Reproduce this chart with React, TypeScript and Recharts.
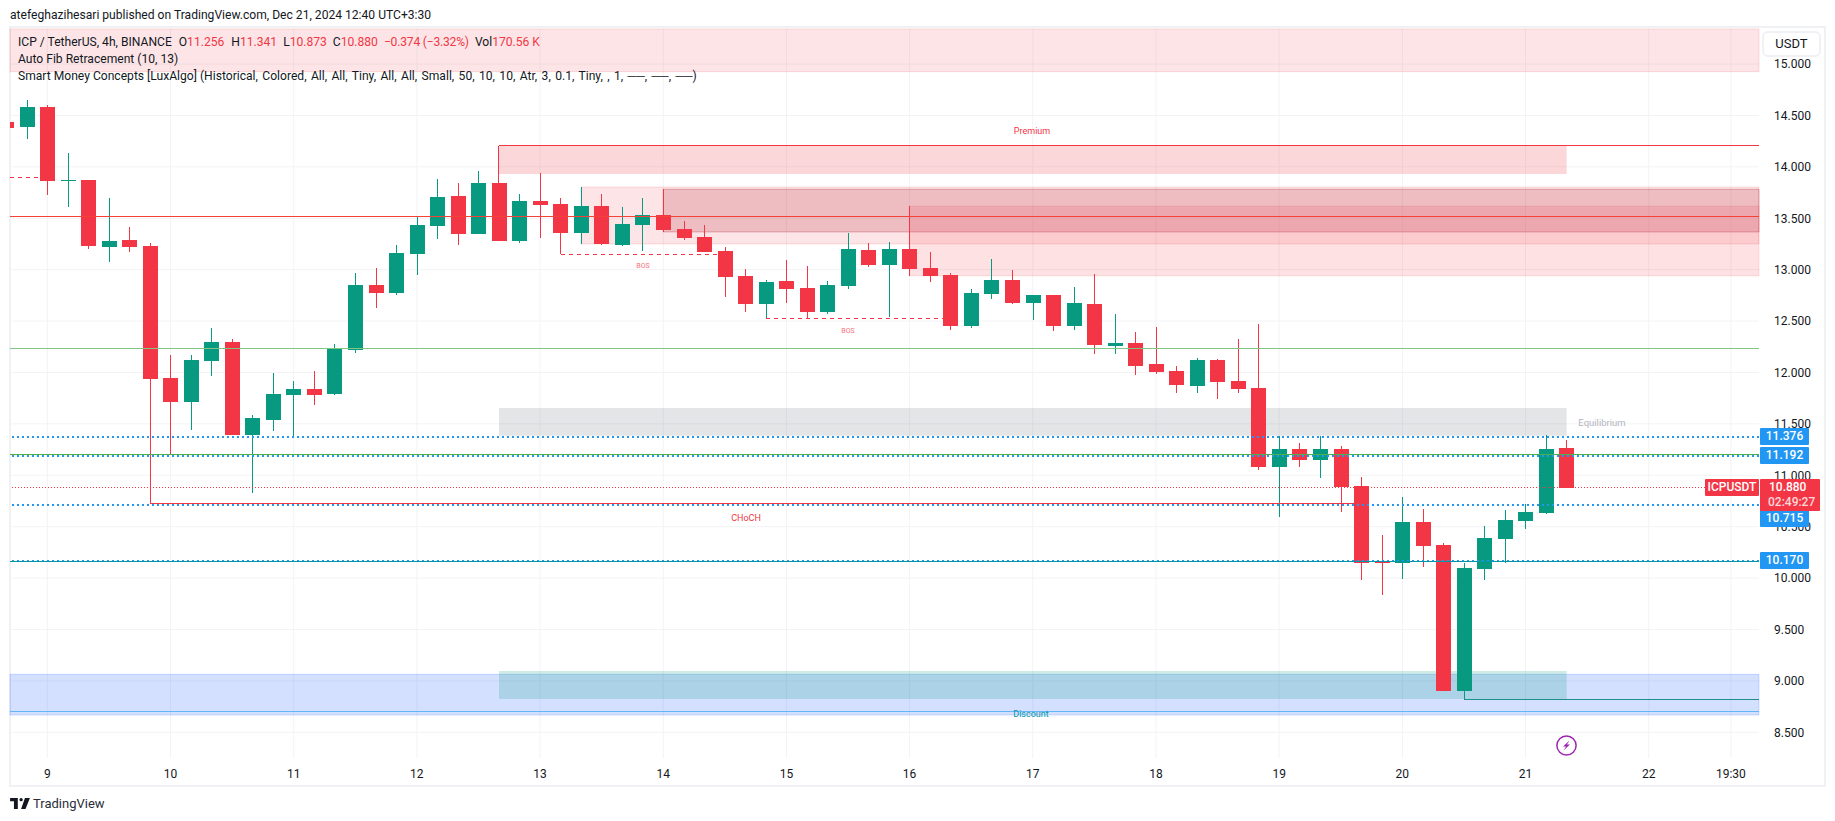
// ICP/USDT 4h candles with Smart Money Concepts zones, TradingView look.
import React from "react";
import { Bar, CartesianGrid, ComposedChart, ReferenceArea, ReferenceLine, XAxis, YAxis } from "recharts";

const RED = "#F23645";
const GREEN = "#089981";
const BLUE = "#2196F3";
const FONT = "Roboto, sans-serif";

// bar index: 0 is the "9" tick, six 4h bars per day
const firstBar = -2;
const opens = [
  14.437, 14.391, 14.583, 13.863, 13.872, 13.221, 13.289, 13.23, 11.946, 11.713,
  12.112, 12.296, 11.392, 11.538, 11.781, 11.839, 11.791, 12.219, 12.851, 12.773,
  13.153, 13.425, 13.717, 13.347, 13.843, 13.279, 13.668, 13.639, 13.357, 13.62,
  13.24, 13.435, 13.532, 13.396, 13.318, 13.182, 12.939, 12.666, 12.89, 12.822,
  12.588, 12.841, 13.191, 13.046, 13.201, 13.016, 12.948, 12.452, 12.763, 12.9,
  12.676, 12.754, 12.452, 12.666, 12.258, 12.287, 12.082, 12.014, 11.868, 12.121,
  11.917, 11.849, 11.081, 11.256, 11.149, 11.256, 10.896, 10.156, 10.146, 10.545,
  10.322, 8.901, 10.088, 10.38, 10.555, 10.633, 11.265,
];
const highs = [
  14.437, 14.651, 14.599, 14.135, 13.872, 13.697, 13.415, 13.26, 12.17, 12.17,
  12.433, 12.326, 11.586, 11.995, 11.917, 12.014, 12.277, 12.968, 13.016, 13.24,
  13.512, 13.882, 13.843, 13.96, 13.843, 13.736, 13.941, 13.697, 13.804, 13.736,
  13.61, 13.697, 13.785, 13.474, 13.435, 13.221, 13.007, 12.9, 13.094, 13.036,
  12.89, 13.357, 13.26, 13.269, 13.62, 13.172, 12.968, 12.812, 13.104, 12.997,
  12.754, 12.754, 12.832, 12.958, 12.569, 12.394, 12.442, 12.063, 12.141, 12.131,
  12.326, 12.472, 11.382, 11.314, 11.382, 11.285, 10.983, 10.419, 10.789, 10.672,
  10.341, 10.146, 10.506, 10.662, 10.721, 11.392, 11.343,
];
const lows = [
  14.378, 14.274, 13.727, 13.61, 13.201, 13.075, 13.172, 10.727, 11.207, 11.44,
  11.966, 11.392, 10.827, 11.431, 11.362, 11.684, 11.781, 12.19, 12.627, 12.754,
  12.948, 13.298, 13.24, 13.347, 13.279, 13.26, 13.308, 13.153, 13.25, 13.24,
  13.23, 13.182, 13.367, 13.289, 13.172, 12.734, 12.588, 12.53, 12.676, 12.53,
  12.569, 12.812, 13.026, 12.54, 12.939, 12.88, 12.413, 12.433, 12.715, 12.666,
  12.511, 12.403, 12.413, 12.18, 12.18, 11.975, 11.985, 11.8, 11.8, 11.742,
  11.8, 11.051, 10.594, 11.081, 10.973, 10.643, 9.981, 9.835, 9.991, 10.108,
  8.901, 8.823, 9.981, 10.146, 10.477, 10.623, 10.876,
];
const closes = [
  14.378, 14.583, 13.866, 13.872, 13.23, 13.279, 13.221, 11.937, 11.713, 12.121,
  12.296, 11.392, 11.557, 11.791, 11.839, 11.781, 12.228, 12.851, 12.773, 13.162,
  13.435, 13.707, 13.347, 13.843, 13.279, 13.668, 13.629, 13.357, 13.62, 13.25,
  13.444, 13.532, 13.386, 13.308, 13.172, 12.929, 12.666, 12.88, 12.812, 12.588,
  12.851, 13.201, 13.046, 13.201, 13.007, 12.939, 12.452, 12.773, 12.9, 12.676,
  12.754, 12.452, 12.676, 12.267, 12.287, 12.063, 12.005, 11.878, 12.121, 11.907,
  11.839, 11.081, 11.256, 11.149, 11.256, 10.886, 10.146, 10.146, 10.545, 10.312,
  8.901, 10.098, 10.39, 10.565, 10.643, 11.256, 10.88,
];

const priceTicks = [8.5, 9, 9.5, 10, 10.5, 11, 11.5, 12, 12.5, 13, 13.5, 14, 14.5, 15];
const timeTicks = [0, 6, 12, 18, 24, 30, 36, 42, 48, 54, 60, 66, 72, 78, 82];
const timeLabels = ["9", "10", "11", "12", "13", "14", "15", "16", "17", "18", "19", "20", "21", "22", "19:30"];

const priceMin = 8.25;
const priceMax = 15.341;
const barMin = -1.817;
const barMax = 83.37;

const rows = closes.map((c, i) => ({
  bar: firstBar + i,
  o: opens[i],
  h: highs[i],
  l: lows[i],
  c,
  range: [lows[i], highs[i]],
}));

function Candle(props: any) {
  const { x, y, width, height, payload } = props;
  const { o, h, l, c } = payload;
  const k = h > l ? height / (h - l) : 0;
  const color = c >= o ? GREEN : RED;
  const mid = x + width / 2;
  const bodyTop = y + (h - Math.max(o, c)) * k;
  const bodyH = Math.max(1, Math.abs(o - c) * k);
  return (
    <g shapeRendering="crispEdges">
      <rect x={Math.floor(mid)} y={y} width={1} height={height} fill={color} />
      <rect x={Math.round(mid - 7.5)} y={bodyTop} width={15} height={bodyH} fill={color} />
    </g>
  );
}

function Txt({ x, y, size = 12.1, color = "#131722", anchor = "left", children }: any) {
  const tr = anchor === "center" ? "translate(-50%,-50%)" : "translateY(-50%)";
  return (
    <div style={{ position: "absolute", left: x, top: y, transform: tr, fontSize: size, color, fontFamily: FONT, whiteSpace: "nowrap", lineHeight: 1 }}>
      {children}
    </div>
  );
}

function PriceTag({ top, height = 17, text }: any) {
  return (
    <div style={{ position: "absolute", left: 1760, top, width: 49, height, background: BLUE, color: "#fff", borderRadius: 1, fontFamily: FONT, fontSize: 12, fontWeight: 500, lineHeight: height + "px", textAlign: "center" }}>
      {text}
    </div>
  );
}

export default function App() {
  return (
    <div style={{ position: "fixed", left: 0, top: 0, width: 1835, height: 821, background: "#fff", overflow: "hidden" }}>
      <div style={{ position: "absolute", left: 9, top: 26, width: 1813, height: 757, border: "2px solid #F0F1F5" }} />
      <Txt x={10} y={15}>atefeghazihesari published on TradingView.com, Dec 21, 2024 12:40 UTC+3:30</Txt>

      <div style={{ position: "absolute", left: 0, top: 0 }}>
        <ComposedChart width={1835} height={821} data={rows} margin={{ top: 29, right: 10, bottom: 35, left: 10 }}>
          <CartesianGrid stroke="#F2F3F5" syncWithTicks />
          <XAxis
            dataKey="bar"
            type="number"
            scale="linear"
            domain={[barMin, barMax]}
            allowDataOverflow
            ticks={timeTicks}
            interval={0}
            height={28}
            axisLine={false}
            tickLine={false}
            tickMargin={5}
            tick={{ fontSize: 12, fill: "#131722", fontFamily: FONT }}
            tickFormatter={(v: number) => timeLabels[timeTicks.indexOf(v)]}
          />
          <YAxis
            orientation="right"
            type="number"
            domain={[priceMin, priceMax]}
            allowDataOverflow
            ticks={priceTicks}
            interval={0}
            width={66}
            axisLine={false}
            tickLine={false}
            tickMargin={9}
            tick={{ fontSize: 12, fill: "#131722", fontFamily: FONT }}
            tickFormatter={(v: number) => v.toFixed(3)}
          />

          {/* full-width fib bands */}
          <ReferenceArea y1={14.926} y2={priceMax} fill={RED} fillOpacity={0.13} stroke={RED} strokeOpacity={0.15} />
          <ReferenceArea y1={8.668} y2={9.064} fill="#2962FF" fillOpacity={0.2} stroke="#2962FF" strokeOpacity={0.2} />

          {/* order blocks, open to the right */}
          <ReferenceArea x1={26} x2={barMax} y1={13.25} y2={13.804} fill={RED} fillOpacity={0.13} stroke={RED} strokeOpacity={0.15} />
          <ReferenceArea x1={30} x2={barMax} y1={13.367} y2={13.782} fill="#AF2032" fillOpacity={0.2} stroke="#AF2032" strokeOpacity={0.3} />
          <ReferenceArea x1={42} x2={barMax} y1={12.939} y2={13.62} fill={RED} fillOpacity={0.15} stroke={RED} strokeOpacity={0.12} />

          {/* premium / equilibrium / discount */}
          <ReferenceArea x1={22} x2={74} y1={13.931} y2={14.203} fill={RED} fillOpacity={0.2} stroke="none" />
          <ReferenceArea x1={22} x2={74} y1={11.385} y2={11.654} fill="#787B86" fillOpacity={0.2} stroke="none" />
          <ReferenceArea x1={22} x2={74} y1={8.823} y2={9.096} fill={GREEN} fillOpacity={0.2} stroke="none" />

          <ReferenceLine y={13.517} stroke="#F44336" strokeWidth={1} shapeRendering="crispEdges" />
          <ReferenceLine y={12.235} stroke="#81C784" strokeWidth={1.5} shapeRendering="crispEdges" />
          <ReferenceLine y={11.376} stroke={BLUE} strokeWidth={2} strokeDasharray="2 3" shapeRendering="crispEdges" />
          <ReferenceLine y={11.192} stroke={BLUE} strokeWidth={2} strokeDasharray="2 3" shapeRendering="crispEdges" />
          <ReferenceLine y={11.2} stroke="#4CAF50" strokeWidth={1.5} shapeRendering="crispEdges" />
          <ReferenceLine y={10.715} stroke={BLUE} strokeWidth={2} strokeDasharray="2 3" shapeRendering="crispEdges" />
          <ReferenceLine y={10.17} stroke={BLUE} strokeWidth={2} strokeDasharray="2 3" shapeRendering="crispEdges" />
          <ReferenceLine y={10.16} stroke="#0097A7" strokeWidth={1.5} shapeRendering="crispEdges" />
          <ReferenceLine y={10.88} stroke={RED} strokeWidth={1} strokeDasharray="1 2" shapeRendering="crispEdges" />
          <ReferenceLine y={8.704} stroke="#64B5F6" strokeWidth={1.5} shapeRendering="crispEdges" />

          {/* swing levels */}
          <ReferenceLine segment={[{ x: 22, y: 13.843 }, { x: 22, y: 14.203 }]} stroke={RED} shapeRendering="crispEdges" />
          <ReferenceLine segment={[{ x: 22, y: 14.203 }, { x: barMax, y: 14.203 }]} stroke={RED} shapeRendering="crispEdges" />
          <ReferenceLine segment={[{ x: barMin, y: 13.899 }, { x: 0, y: 13.899 }]} stroke={RED} strokeDasharray="4 4" shapeRendering="crispEdges" />
          <ReferenceLine segment={[{ x: 25, y: 13.15 }, { x: 33, y: 13.15 }]} stroke={RED} strokeDasharray="4 4" shapeRendering="crispEdges" />
          <ReferenceLine segment={[{ x: 35, y: 12.527 }, { x: 44, y: 12.527 }]} stroke={RED} strokeDasharray="4 4" shapeRendering="crispEdges" />
          <ReferenceLine segment={[{ x: 5, y: 10.727 }, { x: 64, y: 10.727 }]} stroke={RED} shapeRendering="crispEdges" />
          <ReferenceLine segment={[{ x: 69, y: 8.821 }, { x: barMax, y: 8.821 }]} stroke="#1F8F8A" shapeRendering="crispEdges" />

          <Bar dataKey="range" barSize={15} shape={<Candle />} isAnimationActive={false} />
        </ComposedChart>
      </div>

      <Txt x={1032} y={131} size={9} color={RED} anchor="center">Premium</Txt>
      <Txt x={643} y={266} size={7} color="#F7707B" anchor="center">BOS</Txt>
      <Txt x={848} y={331} size={7} color="#F7707B" anchor="center">BOS</Txt>
      <Txt x={746} y={518} size={9} color={RED} anchor="center">CHoCH</Txt>
      <Txt x={1602} y={423} size={9.5} color="#B2B5BE" anchor="center">Equilibrium</Txt>
      <Txt x={1031} y={714} size={9} color="#0097A7" anchor="center">Discount</Txt>

      {/* legend */}
      <Txt x={18} y={42}>
        <span>ICP / TetherUS, 4h, BINANCE</span>
        <span style={{ marginLeft: 7 }}>O</span><span style={{ color: RED }}>11.256</span>
        <span style={{ marginLeft: 7 }}>H</span><span style={{ color: RED }}>11.341</span>
        <span style={{ marginLeft: 6 }}>L</span><span style={{ color: RED }}>10.873</span>
        <span style={{ marginLeft: 6 }}>C</span><span style={{ color: RED }}>10.880</span>
        <span style={{ marginLeft: 6, color: RED, letterSpacing: -0.2 }}>−0.374 (−3.32%)</span>
        <span style={{ marginLeft: 6 }}>Vol</span><span style={{ color: RED }}>170.56 K</span>
      </Txt>
      <Txt x={18} y={59}>Auto Fib Retracement (10, 13)</Txt>
      <Txt x={18} y={76}>
        Smart Money Concepts [LuxAlgo] <span style={{ wordSpacing: 1.4 }}>(Historical, Colored, All, All, Tiny, All, All, Small, 50, 10, 10, Atr, 3, 0.1, Tiny, , 1, ──, ──, ──)</span>
      </Txt>

      {/* price scale widgets */}
      <div style={{ position: "absolute", left: 1762, top: 31, width: 55, height: 22, border: "2px solid #F0F1F5", borderRadius: 6, background: "#fff", fontFamily: FONT, fontSize: 13, color: "#131722", lineHeight: "22px", textAlign: "center" }}>USDT</div>
      <PriceTag top={428} text="11.376" />
      <PriceTag top={447} text="11.192" />
      <PriceTag top={510} text="10.715" />
      <PriceTag top={552} text="10.170" />
      <div style={{ position: "absolute", left: 1705, top: 479, width: 54, height: 17, background: RED, color: "#fff", borderRadius: 1, fontFamily: FONT, fontSize: 12, fontWeight: 500, lineHeight: "17px", textAlign: "center" }}>ICPUSDT</div>
      <div style={{ position: "absolute", left: 1760, top: 479, width: 60, height: 31, background: RED, color: "#fff", borderRadius: 1, fontFamily: FONT, fontSize: 12, fontWeight: 500, lineHeight: "15px", paddingTop: 1 }}>
        <div style={{ marginLeft: 9 }}>10.880</div>
        <div style={{ marginLeft: 8, opacity: 0.8 }}>02:49:27</div>
      </div>

      {/* lightning marker */}
      <svg style={{ position: "absolute", left: 1555, top: 734 }} width={23} height={23} viewBox="0 0 23 23">
        <circle cx={11.5} cy={11.5} r={9.6} fill="#fff" stroke="#9C27B0" strokeWidth={1.5} />
        <path d="M14.5 6.5 L8 12.5 H11 L8.5 16.5 L15 10.5 H12 Z" fill="#9C27B0" />
      </svg>

      {/* footer logo */}
      <svg style={{ position: "absolute", left: 10, top: 798 }} width={20} height={11} viewBox="0 0 36 20">
        <path d="M14 0H0v6h7v14h7V0Z" fill="#131722" />
        <circle cx={20} cy={3} r={3} fill="#131722" />
        <path d="M28 20h-8L27 0h9l-8 20Z" fill="#131722" />
      </svg>
      <Txt x={33} y={803} size={13} color="#2A2E39">TradingView</Txt>
    </div>
  );
}
